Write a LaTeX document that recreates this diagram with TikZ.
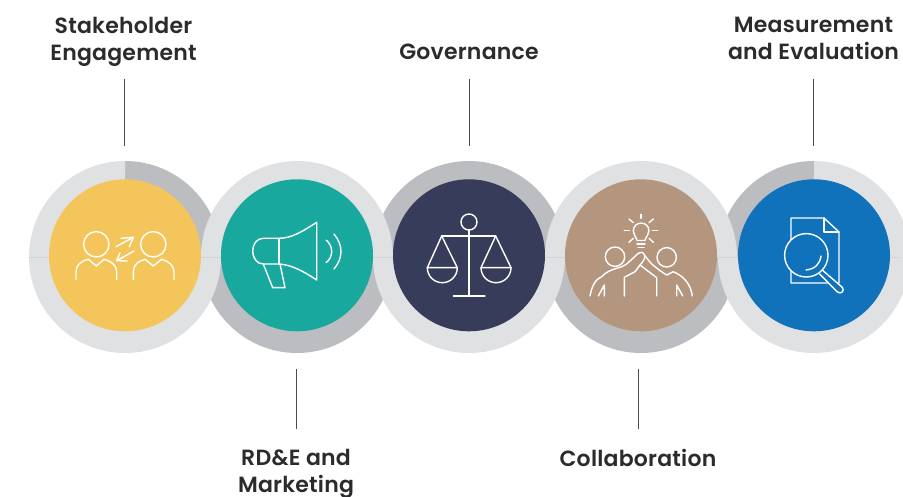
\documentclass[tikz,border=0pt]{standalone}
\usepackage{fontspec}
\setmainfont{Poppins}[BoldFont={Poppins SemiBold},LetterSpace=1.0]
\definecolor{ringlight}{HTML}{E0E1E3}
\definecolor{ringdark}{HTML}{BCBDC1}
\definecolor{hair}{HTML}{D2D3D6}
\definecolor{cyellow}{HTML}{F4C55B}
\definecolor{cteal}{HTML}{19A89D}
\definecolor{cnavy}{HTML}{383C5B}
\definecolor{ctan}{HTML}{B4967F}
\definecolor{cblue}{HTML}{1172BC}
\definecolor{ink}{HTML}{2B2B2D}
\tikzset{
  disc/.style={circle,draw=none,minimum size=152pt,inner sep=0pt},
  lab/.style={font=\fontsize{22}{27}\selectfont\bfseries,text=ink,align=center,inner sep=0pt},
  conn/.style={draw=ink!85,line width=1pt},
  ic/.style={draw=white,line width=1.4pt,line cap=round,line join=round},
}
\begin{document}
\begin{tikzpicture}[x=1pt,y=-1pt]
\useasboundingbox (0,0) rectangle (903,497);
% rings: dark sectors below, light sectors above
\fill[ringdark] (125,257) -- (125,161) arc[start angle=90,end angle=0,radius=96pt] -- cycle;
\fill[ringdark] (297,257) -- (201,257) arc[start angle=180,end angle=360,radius=96pt] -- cycle;
\fill[ringdark] (469,257) -- (565,257) arc[start angle=0,end angle=180,radius=96pt] -- cycle;
\fill[ringdark] (641,257) -- (545,257) arc[start angle=180,end angle=360,radius=96pt] -- cycle;
\fill[ringdark] (814,257) -- (718,257) arc[start angle=180,end angle=90,radius=96pt] -- cycle;
\fill[ringlight] (125,257) -- (125,161) arc[start angle=90,end angle=360,radius=96pt] -- cycle;
\fill[ringlight] (297,257) -- (393,257) arc[start angle=0,end angle=180,radius=96pt] -- cycle;
\fill[ringlight] (469,257) -- (565,257) arc[start angle=360,end angle=180,radius=96pt] -- cycle;
\fill[ringlight] (641,257) -- (737,257) arc[start angle=0,end angle=180,radius=96pt] -- cycle;
\fill[ringlight] (814,257) -- (814,161) arc[start angle=90,end angle=-180,radius=96pt] -- cycle;
\draw[hair,line width=.5pt] (29,257) -- (900,257);
% discs
\node[disc,fill=cyellow] (d1) at (125,255.3) {};
\node[disc,fill=cteal] (d2) at (297,255.3) {};
\node[disc,fill=cnavy] (d3) at (469,255.3) {};
\node[disc,fill=ctan] (d4) at (641,255.3) {};
\node[disc,fill=cblue] (d5) at (814,255.3) {};
% labels
\node[lab] (l1) at (123.5,41.5) {Stakeholder\\Engagement};
\node[lab] (l2) at (296,474) {RD\&E and\\Marketing};
\node[lab] (l3) at (469,52) {Governance};
\node[lab] (l4) at (638,458) {Collaboration};
\node[lab] (l5) at (813.5,38.5) {Measurement\\and Evaluation};
% connector ends
\coordinate (a1) at (124,79); \coordinate (b1) at (124,146);
\coordinate (a2) at (296,429); \coordinate (b2) at (296,369);
\coordinate (a3) at (469,79); \coordinate (b3) at (469,146);
\coordinate (a4) at (638,429); \coordinate (b4) at (638,369);
\coordinate (a5) at (813,79); \coordinate (b5) at (813,146);
\foreach \i in {1,...,5} {\draw[conn] (a\i) -- (b\i);}
% icon 1: people
\begin{scope}[ic]
\draw (96.3,244.3) circle[radius=12.7pt];
\draw (153.3,244.3) circle[radius=12.7pt];
\draw (76,279.3) -- (76,272) .. controls (76,265) and (81,261) .. (88.3,259.3) -- (96.3,266) -- (104,259.3) .. controls (111,261) and (116.7,265) .. (116.7,272) -- (116.7,279.3);
\draw (133.3,279.3) -- (133.3,272) .. controls (133.3,265) and (138,261) .. (145,259.3) -- (153.3,266) -- (161.7,259.3) .. controls (168,261) and (174,265) .. (174,272) -- (174,279.3);
\draw (116,246.7) -- (133.3,237.3); \draw (121,238.3) -- (133.3,237.3) -- (129.3,246.7);
\draw (134,251) -- (116.7,260.7); \draw (127.3,261) -- (116.7,260.7) -- (120,252.7);
\end{scope}
% icon 2: megaphone
\begin{scope}[ic]
\draw (279,238.3) -- (263.3,238.3) .. controls (256.5,238.3) and (252.7,244.5) .. (252.7,251) .. controls (252.7,257.5) and (256.5,264) .. (263.3,264) -- (279,264) .. controls (292,265) and (303,271) .. (316.7,280) -- (316.7,222.3) .. controls (303,231) and (292,238.3) .. (279,238.3);
\draw (279,238.3) -- (279,264);
\draw (263.3,264) -- (272.7,287.7) -- (285,287.7) -- (280,264);
\draw (326,240) .. controls (333.6,246) and (333.6,257) .. (326,262.7);
\draw (334,234) .. controls (343.3,245) and (343.3,258) .. (334,269);
\end{scope}
% icon 3: scales
\begin{scope}[ic]
\draw (469,222) circle[radius=8pt];
\draw (469,230) -- (469,296);
\draw (453.3,296) -- (485,296);
\draw (441.7,236) -- (495.7,236);
\draw (441.7,236) -- (427.3,267.7); \draw (441.7,236) -- (457.3,267.7);
\draw (495.7,236) -- (481,267.7); \draw (495.7,236) -- (511,267.7);
\draw (427.3,267.7) -- (457.3,267.7) arc[start angle=360,end angle=180,radius=15pt] -- cycle;
\draw (481,267.7) -- (511,267.7) arc[start angle=360,end angle=180,radius=15pt] -- cycle;
\end{scope}
% icon 4: collaboration
\begin{scope}[ic]
\draw (615,256.7) circle[radius=9.7pt];
\draw (666.7,257.3) circle[radius=9.7pt];
\draw (590,296) .. controls (592,285) and (596,279) .. (601.7,276.7) .. controls (606,272) and (611,270) .. (616.7,268.3) .. controls (624,266.5) and (627,264) .. (630,261) -- (638.3,253.3) .. controls (640,251.5) and (643.5,251.5) .. (645,256) .. controls (645,259) and (642,263) .. (640,265) -- (635,271.7) -- (624.3,277.3) -- (624.3,296);
\draw (645,256) -- (651.7,264) -- (660,270.7) -- (666.7,275) -- (673.3,271.7) .. controls (684,276) and (691,285) .. (692.3,296);
\draw (640,265) -- (656.7,277.7) -- (656.7,296);
\draw (598.3,296) -- (604.3,285) -- (604.3,296);
\draw (676.7,296) -- (676.7,285) -- (682.7,296);
\draw (637,240.5) .. controls (636,236) and (633.3,235) .. (633.3,231) .. controls (633.3,220.5) and (649,220.5) .. (649,231) .. controls (649,235) and (646,236) .. (645,240.5) -- cycle;
\draw (637,244) -- (645,244); \draw (638,247.5) -- (644,247.5);
\draw (641,214.3) -- (641,218.3);
\draw (624.3,230.7) -- (629.3,230.7); \draw (652.3,230.7) -- (657.7,230.7);
\draw (629,219) -- (633.3,222.7); \draw (653.3,219) -- (649,222.7);
\draw (629,242.3) -- (633.3,238.3); \draw (653.3,242.3) -- (649,238.3);
\end{scope}
% icon 5: document and lens
\begin{scope}[ic]
\draw (839,283) -- (839,232) -- (824,218) -- (791,218) -- (791,283) -- (839,283);
\draw (824,218) -- (824,232) -- (839,232);
\draw[fill=cblue] (806.3,255.3) circle[radius=21.7pt];
\draw[fill=cblue] (823,270.7) -- (842.3,287.3) .. controls (845,291) and (841,295) .. (837,291.7) -- (819.7,274);
\draw (821,256) .. controls (820,264) and (815,269) .. (806,270);
\end{scope}
\end{tikzpicture}
\end{document}
